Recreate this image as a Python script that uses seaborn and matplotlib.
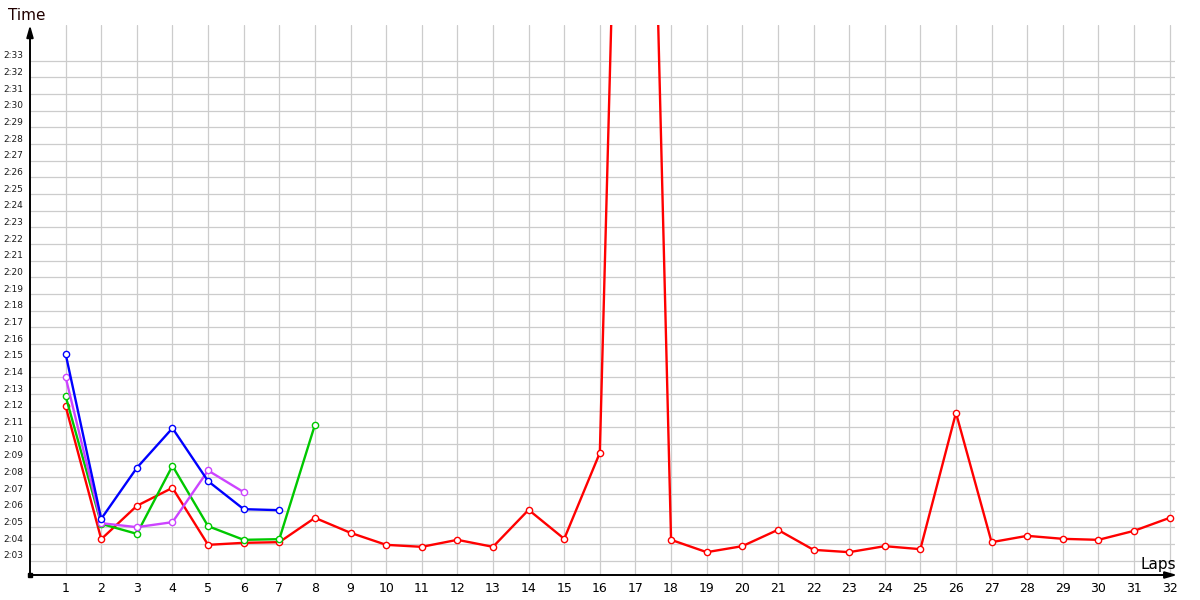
import pandas as pd
import seaborn as sns
import matplotlib.pyplot as plt
from matplotlib.ticker import FixedLocator

# lap times in seconds
laps_red = list(range(1, 33))
time_red = [132.26, 124.28, 126.28, 127.36, 123.94, 124.06, 124.10, 125.56,
            124.66, 123.94, 123.82, 124.24, 123.82, 126.04, 124.30, 129.46,
            210.0, 124.24, 123.50, 123.86, 124.84, 123.64, 123.50, 123.86,
            123.68, 131.86, 124.10, 124.48, 124.30, 124.24, 124.78, 125.56]

laps_green = list(range(1, 9))
time_green = [132.86, 125.20, 124.60, 128.68, 125.06, 124.24, 124.28, 131.14]

laps_violet = list(range(1, 7))
time_violet = [134.00, 125.24, 125.00, 125.30, 128.40, 127.10]

laps_blue = list(range(1, 8))
time_blue = [135.40, 125.50, 128.56, 130.94, 127.76, 126.08, 126.02]

drivers = ['red', 'green', 'violet', 'blue']
colors = {'red': '#FF0000', 'green': '#00C800', 'violet': '#CC44FF', 'blue': '#0000FF'}

lap_ticks = list(range(1, 33))
time_ticks = list(range(123, 154))


def build_frame():
    parts = []
    for name, laps, times in [('red', laps_red, time_red),
                              ('green', laps_green, time_green),
                              ('violet', laps_violet, time_violet),
                              ('blue', laps_blue, time_blue)]:
        parts.append(pd.DataFrame({'Lap': laps, 'Time': times, 'Driver': name}))
    return pd.concat(parts, ignore_index=True)


df = build_frame()

sns.set_style('white')
plt.rcParams['font.family'] = ['DejaVu Sans']

fig = plt.figure(figsize=(12, 6), dpi=100)
ax = fig.add_axes([30 / 1200, 25 / 600, 1145 / 1200, 550 / 600])

sns.lineplot(data=df, x='Lap', y='Time', hue='Driver', hue_order=drivers,
             palette=colors, marker='o', markersize=4.5, linewidth=1.7,
             estimator=None, legend=False, ax=ax)

# open circles with coloured edge
for line in ax.lines:
    line.set_markerfacecolor('white')
    line.set_markeredgecolor(line.get_color())
    line.set_markeredgewidth(1.0)

ax.set_xlim(0, 32.15)
ax.set_ylim(122.13, 155.13)

ax.xaxis.set_major_locator(FixedLocator(lap_ticks))
ax.set_xticklabels([str(l) for l in lap_ticks], fontsize=9)
ax.yaxis.set_major_locator(FixedLocator(time_ticks))
ax.set_yticklabels(['%d:%02d' % (t // 60, t % 60) for t in time_ticks], fontsize=6.5)
for lab in ax.get_yticklabels():
    lab.set_va('bottom')

ax.tick_params(axis='x', length=0, pad=5, labelcolor='black')
ax.tick_params(axis='y', length=0, pad=5, labelcolor='#1a1a1a')
ax.grid(True, color='#CCCCCC', linewidth=0.9)
ax.set_axisbelow(True)
ax.set_xlabel('')
ax.set_ylabel('')
for s in ax.spines.values():
    s.set_visible(False)

# axis arrows
ax.annotate('', xy=(0, 1.0), xytext=(0, 0), xycoords='axes fraction',
            arrowprops=dict(arrowstyle='-|>,head_length=0.7,head_width=0.2',
                            color='black', lw=1.4, shrinkA=0, shrinkB=0))
ax.annotate('', xy=(1.002, 0), xytext=(0, 0), xycoords='axes fraction',
            arrowprops=dict(arrowstyle='-|>,head_length=0.7,head_width=0.2',
                            color='black', lw=1.4, shrinkA=0, shrinkB=0))
ax.plot([0], [0], marker='s', color='black', markersize=3,
        transform=ax.transAxes, clip_on=False)

fig.text(8 / 1200, 1 - 15 / 600, 'Time', fontsize=11, va='center', ha='left', color='#200000')
fig.text(1176 / 1200, 1 - 565 / 600, 'Laps', fontsize=11, va='center', ha='right', color='black')

fig.savefig('out.png', dpi=100)
